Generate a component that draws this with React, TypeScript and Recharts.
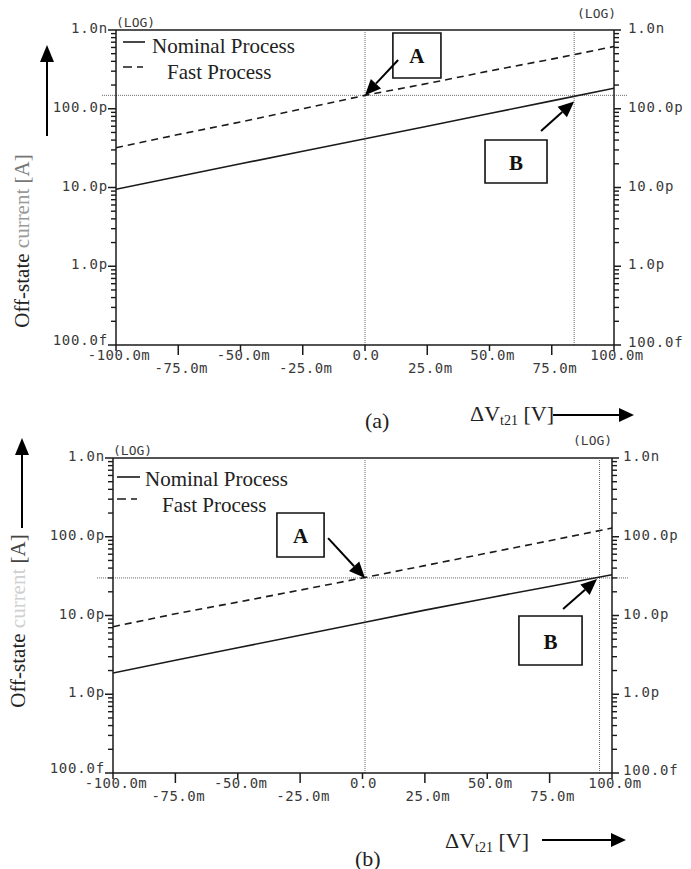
import React from 'react';
import { LineChart, Line, XAxis, YAxis, ReferenceLine, ReferenceArea, Legend } from 'recharts';

// ---------- data ----------
const deltaVt21 = [-0.1, -0.075, -0.05, -0.025, 0, 0.025, 0.05, 0.075, 0.1];
const nominalA = [9.5e-12, 13.8e-12, 20e-12, 28.8e-12, 41.7e-12, 60e-12, 87e-12, 126e-12, 182e-12];
const fastA = [32e-12, 47e-12, 68e-12, 100e-12, 148e-12, 209e-12, 302e-12, 427e-12, 617e-12];
const nominalB = [1.86e-12, 2.7e-12, 3.9e-12, 5.6e-12, 8.1e-12, 11.7e-12, 16.6e-12, 23.4e-12, 33e-12];
const fastB = [7.2e-12, 10.5e-12, 14.8e-12, 21e-12, 30e-12, 43e-12, 62e-12, 89e-12, 129e-12];

const xTicks = [-0.1, -0.075, -0.05, -0.025, 0, 0.025, 0.05, 0.075, 0.1];
const xTickLabels = ['-100.0m', '-75.0m', '-50.0m', '-25.0m', '0.0', '25.0m', '50.0m', '75.0m', '100.0m'];
const yMajorTicks = [1e-13, 1e-12, 1e-11, 1e-10, 1e-9];
const yTickLabels = ['100.0f', '1.0p', '10.0p', '100.0p', '1.0n'];
const seriesNames = ['Nominal Process', 'Fast Process'];

// annotation values (data coordinates)
const refLevelA = 148e-12;
const refXsA = [0, 0.084];
const boxA_a = { x: [0.0112, 0.0305], y: [2.46e-10, 9.16e-10] };
const arrowA_a = { from: [0.0133, 4.16e-10], to: [0, 1.48e-10] };
const boxB_a = { x: [0.0482, 0.0731], y: [1.14e-11, 4.01e-11] };
const arrowB_a = { from: [0.0707, 5.21e-11], to: [0.084, 1.24e-10] };

const refLevelB = 30e-12;
const refXsB = [0.001, 0.095];
const boxA_b = { x: [-0.0343, -0.0154], y: [5.53e-11, 2.0e-10] };
const arrowA_b = { from: [-0.0138, 9.6e-11], to: [0.001, 3.0e-11] };
const boxB_b = { x: [0.0627, 0.088], y: [2.35e-12, 9.86e-12] };
const arrowB_b = { from: [0.0804, 1.21e-11], to: [0.094, 2.9e-11] };

// minor log ticks (axis decoration)
const yMinorTicks: number[] = [];
yMajorTicks.forEach((m, i) => {
  if (i < yMajorTicks.length - 1) for (let k = 2; k <= 9; k++) yMinorTicks.push(m * k);
});

const MONO = '"DejaVu Sans Mono", "Liberation Mono", monospace';
const SERIF = '"Liberation Serif", "Times New Roman", serif';
const INK = '#1a1a1a';
const LABEL = '#3a3a3a';

const majorIndex = (v: number) => yMajorTicks.findIndex((m) => Math.abs(Math.log10(m) - Math.log10(v)) < 1e-6);

const makeLeftTick = () => (props: any) => {
  const { x, y, payload } = props;
  const idx = majorIndex(payload.value);
  if (idx < 0) return <g />;
  const dy = idx === 0 ? -5 : -2;
  return (
    <g>
      <line x1={x - 8} x2={x} y1={y} y2={y} stroke={INK} strokeWidth={1.5} />
      <text x={x - 8} y={y + dy} textAnchor="end" dominantBaseline="central" fontFamily={MONO} fontSize={14} letterSpacing={0.8} fill={LABEL}>
        {yTickLabels[idx]}
      </text>
    </g>
  );
};

const makeRightTick = (labelGap: number) => (props: any) => {
  const { x, y, payload } = props;
  const idx = majorIndex(payload.value);
  if (idx < 0) return <g />;
  const dy = idx === 0 ? -3 : -2;
  return (
    <g>
      <line x1={x} x2={x + 7} y1={y} y2={y} stroke={INK} strokeWidth={1.5} />
      <text x={x + labelGap} y={y + dy} textAnchor="start" dominantBaseline="central" fontFamily={MONO} fontSize={14} letterSpacing={0.8} fill={LABEL}>
        {yTickLabels[idx]}
      </text>
    </g>
  );
};

const XTick = (props: any) => {
  const { x, y, payload } = props;
  const i = xTicks.findIndex((t) => Math.abs(t - payload.value) < 1e-9);
  const lower = i % 2 === 1;
  const label = xTickLabels[i];
  const off = label === '0.0' ? 1 : 3;
  return (
    <g>
      <line x1={x} x2={x} y1={y} y2={y + (lower ? 10 : 6)} stroke={INK} strokeWidth={1.5} />
      <text x={x + off} y={y + (lower ? 23 : 10)} textAnchor="middle" dominantBaseline="central" fontFamily={MONO} fontSize={14} letterSpacing={0.5} fill={LABEL}>
        {label}
      </text>
    </g>
  );
};

// minor tick marks drawn as short axis-anchored segments via ReferenceLine shapes
const MinorTickShape = (side: 'left' | 'right') => (props: any) => {
  const { x1, x2, y1 } = props;
  if (typeof y1 !== 'number' || isNaN(y1)) return null;
  const ax = side === 'left' ? Math.min(x1, x2) : Math.max(x1, x2);
  const xa = side === 'left' ? ax - 5 : ax;
  const xb = side === 'left' ? ax : ax + 5;
  return <line x1={xa} x2={xb} y1={y1} y2={y1} stroke={INK} strokeWidth={1.4} />;
};

const ArrowShape = (props: any) => {
  const { x1, y1, x2, y2 } = props;
  if ([x1, y1, x2, y2].some((v) => typeof v !== 'number' || isNaN(v))) return null;
  const ang = Math.atan2(y2 - y1, x2 - x1);
  const L = 16;
  const W = 7;
  const bx = x2 - L * Math.cos(ang);
  const by = y2 - L * Math.sin(ang);
  const px = -Math.sin(ang) * W;
  const py = Math.cos(ang) * W;
  return (
    <g>
      <line x1={x1} y1={y1} x2={bx} y2={by} stroke="#000" strokeWidth={2} />
      <polygon points={`${x2},${y2} ${bx + px},${by + py} ${bx - px},${by - py}`} fill="#000" />
    </g>
  );
};

const BoxLabel = (text: string) => (props: any) => {
  const vb = props.viewBox || {};
  const cx = vb.x + vb.width / 2;
  const cy = vb.y + vb.height / 2;
  return (
    <text x={cx} y={cy + 1} textAnchor="middle" dominantBaseline="central" fontFamily={SERIF} fontWeight="bold" fontSize={21} fill="#111">
      {text}
    </text>
  );
};

type LegendCfg = { left: number; top: number; solidY: number; solidX: [number, number]; nomX: number; nomBase: number; dashY: number; dashX: [number, number]; fastX: number; fastBase: number; fontSize: number };

const makeLegend = (c: LegendCfg) => () => (
  <svg width={240} height={64} style={{ display: 'block' }}>
    <line x1={c.solidX[0]} x2={c.solidX[1]} y1={c.solidY} y2={c.solidY} stroke={INK} strokeWidth={1.6} />
    <text x={c.nomX} y={c.nomBase} fontFamily={SERIF} fontSize={c.fontSize} fill="#222">{seriesNames[0]}</text>
    <line x1={c.dashX[0]} x2={c.dashX[1]} y1={c.dashY} y2={c.dashY} stroke={INK} strokeWidth={1.6} strokeDasharray="9 5" />
    <text x={c.fastX} y={c.fastBase} fontFamily={SERIF} fontSize={c.fontSize} fill="#222">{seriesNames[1]}</text>
  </svg>
);

type PanelProps = {
  nominal: number[];
  fast: number[];
  top: number;
  margin: { top: number; right: number; bottom: number; left: number };
  refLevel: number;
  refSpan: [number, number];
  refXs: number[];
  boxA: { x: number[]; y: number[] };
  arrowA: { from: number[]; to: number[] };
  boxB: { x: number[]; y: number[] };
  arrowB: { from: number[]; to: number[] };
  legend: LegendCfg;
  rightGap: number;
};

const Panel = (p: PanelProps) => {
  const data = deltaVt21.map((x, i) => ({ x, nominal: p.nominal[i], fast: p.fast[i] }));
  const LegendContent = makeLegend(p.legend);
  return (
    <div style={{ position: 'absolute', left: 0, top: p.top }}>
      <LineChart width={691} height={400} data={data} margin={p.margin}>
        <XAxis
          dataKey="x"
          type="number"
          domain={[-0.1, 0.1]}
          ticks={xTicks}
          interval={0}
          tickLine={false}
          tickSize={0}
          tickMargin={0}
          height={40}
          allowDataOverflow
          axisLine={{ stroke: INK, strokeWidth: 1.5 }}
          tick={<XTick />}
        />
        <YAxis
          yAxisId="left"
          orientation="left"
          scale="log"
          type="number"
          domain={[1e-13, 1e-9]}
          ticks={yMajorTicks}
          interval={0}
          allowDataOverflow
          tickLine={false}
          tickSize={0}
          tickMargin={0}
          width={60}
          axisLine={{ stroke: INK, strokeWidth: 1.5 }}
          tick={makeLeftTick()}
        />
        <YAxis
          yAxisId="right"
          orientation="right"
          scale="log"
          type="number"
          domain={[1e-13, 1e-9]}
          ticks={yMajorTicks}
          interval={0}
          allowDataOverflow
          tickLine={false}
          tickSize={0}
          tickMargin={0}
          width={70}
          axisLine={{ stroke: INK, strokeWidth: 1.5 }}
          tick={makeRightTick(p.rightGap)}
        />
        <ReferenceLine yAxisId="left" y={1e-9} stroke={INK} strokeWidth={1.5} ifOverflow="visible" />
        {yMinorTicks.map((v) => (
          <ReferenceLine key={'l' + v} yAxisId="left" y={v} ifOverflow="visible" shape={MinorTickShape('left')} />
        ))}
        {yMinorTicks.map((v) => (
          <ReferenceLine key={'r' + v} yAxisId="left" y={v} ifOverflow="visible" shape={MinorTickShape('right')} />
        ))}
        <ReferenceLine
          yAxisId="left"
          segment={[{ x: p.refSpan[0], y: p.refLevel }, { x: p.refSpan[1], y: p.refLevel }]}
          stroke="#666"
          strokeWidth={1}
          strokeDasharray="1 1"
          ifOverflow="visible"
        />
        {p.refXs.map((rx) => (
          <ReferenceLine key={rx} yAxisId="left" x={rx} stroke="#666" strokeWidth={1} strokeDasharray="1 1" ifOverflow="visible" />
        ))}
        <Line yAxisId="left" type="linear" dataKey="nominal" name={seriesNames[0]} stroke={INK} strokeWidth={1.6} dot={false} isAnimationActive={false} />
        <Line yAxisId="left" type="linear" dataKey="fast" name={seriesNames[1]} stroke={INK} strokeWidth={1.6} strokeDasharray="7 5" dot={false} isAnimationActive={false} />
        <ReferenceArea yAxisId="left" x1={p.boxA.x[0]} x2={p.boxA.x[1]} y1={p.boxA.y[0]} y2={p.boxA.y[1]} fill="#fff" fillOpacity={1} stroke="#111" strokeWidth={1.6} ifOverflow="visible" label={BoxLabel('A')} />
        <ReferenceArea yAxisId="left" x1={p.boxB.x[0]} x2={p.boxB.x[1]} y1={p.boxB.y[0]} y2={p.boxB.y[1]} fill="#fff" fillOpacity={1} stroke="#111" strokeWidth={1.6} ifOverflow="visible" label={BoxLabel('B')} />
        <ReferenceLine
          yAxisId="left"
          segment={[{ x: p.arrowA.from[0], y: p.arrowA.from[1] }, { x: p.arrowA.to[0], y: p.arrowA.to[1] }]}
          ifOverflow="visible"
          shape={ArrowShape}
        />
        <ReferenceLine
          yAxisId="left"
          segment={[{ x: p.arrowB.from[0], y: p.arrowB.from[1] }, { x: p.arrowB.to[0], y: p.arrowB.to[1] }]}
          ifOverflow="visible"
          shape={ArrowShape}
        />
        <Legend
          layout="vertical"
          align="center"
          verticalAlign="middle"
          content={LegendContent}
          wrapperStyle={{ position: 'absolute', left: p.legend.left, top: p.legend.top, width: 240, height: 64 }}
        />
      </LineChart>
    </div>
  );
};

const UpArrow = ({ x, tip, base, bottom }: { x: number; tip: number; base: number; bottom: number }) => (
  <g>
    <line x1={x} x2={x} y1={bottom} y2={base} stroke="#000" strokeWidth={2} />
    <polygon points={`${x},${tip} ${x - 7},${base} ${x + 7},${base}`} fill="#000" />
  </g>
);

const RightArrow = ({ y, start, base, tip }: { y: number; start: number; base: number; tip: number }) => (
  <g>
    <line x1={start} x2={base} y1={y} y2={y} stroke="#000" strokeWidth={2} />
    <polygon points={`${tip},${y} ${base},${y - 7} ${base},${y + 7}`} fill="#000" />
  </g>
);

const Title = ({ x, y }: { x: number; y: number }) => (
  <text x={x} y={y} fontFamily={SERIF} fontSize={22} fill="#222">
    ΔV
    <tspan fontSize={14} dy={4}>t21</tspan>
    <tspan dy={-4}> [V]</tspan>
  </text>
);

export default function App() {
  return (
    <div style={{ position: 'absolute', left: 0, top: 0, width: 691, height: 869, background: '#fff', overflow: 'hidden' }}>
      <Panel
        nominal={nominalA}
        fast={fastA}
        top={0}
        margin={{ top: 30, right: 7, bottom: 15, left: 56 }}
        refLevel={refLevelA}
        refSpan={[-0.1056, 0.1056]}
        refXs={refXsA}
        boxA={boxA_a}
        arrowA={arrowA_a}
        boxB={boxB_a}
        arrowB={arrowB_a}
        rightGap={14}
        legend={{ left: 115, top: 30, solidY: 12, solidX: [8, 30], nomX: 37, nomBase: 23, dashY: 37, dashX: [8, 28], fastX: 52, fastBase: 49, fontSize: 21 }}
      />
      <Panel
        nominal={nominalB}
        fast={fastB}
        top={420}
        margin={{ top: 38, right: 9, bottom: 7, left: 53 }}
        refLevel={refLevelB}
        refSpan={[-0.1064, 0.1064]}
        refXs={refXsB}
        boxA={boxA_b}
        arrowA={arrowA_b}
        boxB={boxB_b}
        arrowB={arrowB_b}
        rightGap={11}
        legend={{ left: 110, top: 38, solidY: 19, solidX: [7, 30], nomX: 35, nomBase: 28, dashY: 41, dashX: [7, 27], fastX: 52, fastBase: 54, fontSize: 21 }}
      />
      <svg width={691} height={869} style={{ position: 'absolute', left: 0, top: 0, pointerEvents: 'none' }}>
        {/* panel (a) decorations */}
        <text x={116} y={22} fontFamily={MONO} fontSize={13} fill={LABEL} dominantBaseline="central">(LOG)</text>
        <text x={577} y={13} fontFamily={MONO} fontSize={13} fill={LABEL} dominantBaseline="central">(LOG)</text>
        <text transform="translate(22,241) rotate(-90)" textAnchor="middle" dominantBaseline="central" fontFamily={SERIF} fontSize={21} fill="#222">
          Off-state <tspan fill="#999">current</tspan><tspan fill="#777"> [A]</tspan>
        </text>
        <UpArrow x={47} tip={45} base={62} bottom={136} />
        <Title x={470} y={421} />
        <RightArrow y={415} start={553} base={619} tip={634} />
        <text x={365} y={420} dominantBaseline="central" fontFamily={SERIF} fontSize={22} fill="#222">(a)</text>

        {/* panel (b) decorations */}
        <text x={113} y={450} fontFamily={MONO} fontSize={13} fill={LABEL} dominantBaseline="central">(LOG)</text>
        <text x={573} y={440} fontFamily={MONO} fontSize={13} fill={LABEL} dominantBaseline="central">(LOG)</text>
        <text transform="translate(18,621) rotate(-90)" textAnchor="middle" dominantBaseline="central" fontFamily={SERIF} fontSize={21} fill="#222">
          Off-state <tspan fill="#cfcfcf">current</tspan><tspan fill="#444"> [A]</tspan>
        </text>
        <UpArrow x={22} tip={438} base={455} bottom={528} />
        <Title x={445} y={848} />
        <RightArrow y={840} start={542} base={611} tip={626} />
        <text x={355} y={858} dominantBaseline="central" fontFamily={SERIF} fontSize={22} fill="#222">(b)</text>
      </svg>
    </div>
  );
}
